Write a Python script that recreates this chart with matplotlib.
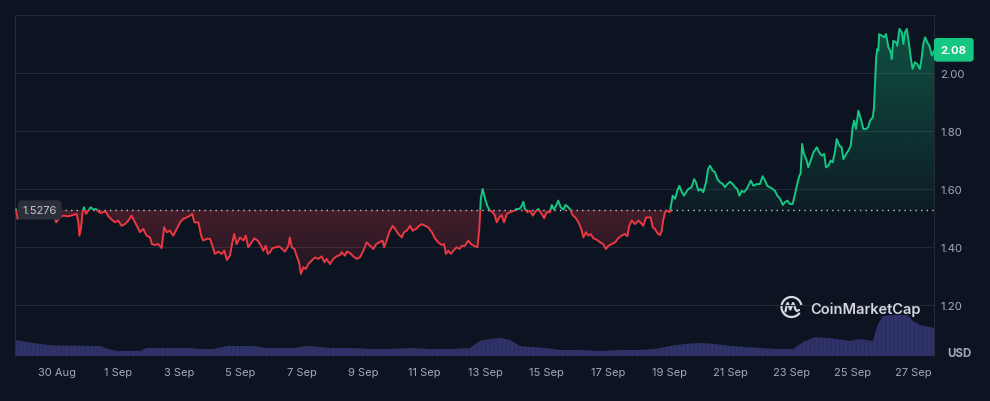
import numpy as np
import matplotlib
matplotlib.use('Agg')
import matplotlib.pyplot as plt
from matplotlib.patches import PathPatch, Rectangle, Arc
from matplotlib.path import Path
from matplotlib.colors import to_rgb

plt.rcParams['font.family'] = ['Inter', 'DejaVu Sans']
plt.rcParams['hatch.linewidth'] = 0.6

# days counted from 30 Aug (0) ; price in USD
days = np.array([
    -1.34, -1.29, -1.21, -1.12, -0.98, -0.78, -0.56, -0.39, -0.25, -0.10, -0.03,
    0.10, 0.21, 0.37, 0.53, 0.64, 0.70, 0.73, 0.78, 0.84, 0.88, 0.95, 1.02, 1.10,
    1.19, 1.27, 1.35, 1.43, 1.51, 1.59, 1.68, 1.79, 1.90, 2.00, 2.11, 2.22, 2.33,
    2.44, 2.52, 2.61, 2.71, 2.82, 2.93, 3.04, 3.10, 3.20, 3.31, 3.42, 3.50, 3.59,
    3.69, 3.80, 3.91, 4.02, 4.13, 4.24, 4.35, 4.42, 4.49, 4.62, 4.71, 4.78, 4.89,
    5.00, 5.08, 5.16, 5.27, 5.38, 5.47, 5.55, 5.65, 5.73, 5.79, 5.87, 5.98, 6.09,
    6.17, 6.25, 6.36, 6.45, 6.56, 6.67, 6.74, 6.82, 6.89, 6.96, 7.04, 7.15, 7.26,
    7.36, 7.45, 7.56, 7.61, 7.67, 7.76, 7.83, 7.91, 7.97, 8.05, 8.13, 8.21, 8.32,
    8.43, 8.54, 8.65, 8.74, 8.81, 8.92, 9.03, 9.14, 9.25, 9.30, 9.41, 9.47, 9.58,
    9.68, 9.79, 9.90, 10.01, 10.12, 10.23, 10.34, 10.43, 10.53, 10.64, 10.69,
    10.77, 10.86, 10.97, 11.05, 11.15, 11.27, 11.34, 11.43, 11.54, 11.62, 11.73,
    11.84, 11.92, 12.03, 12.13, 12.25, 12.35, 12.46, 12.57, 12.65, 12.71, 12.79,
    12.87, 12.95, 13.06, 13.15, 13.23, 13.33, 13.44, 13.53, 13.63, 13.74, 13.80,
    13.85, 13.91, 13.99, 14.06, 14.15, 14.24, 14.31, 14.37, 14.45, 14.53, 14.61,
    14.70, 14.80, 14.94, 15.02, 15.11, 15.19, 15.24, 15.29, 15.37, 15.46, 15.55,
    15.62, 15.73, 15.84, 15.92, 16.00, 16.11, 16.17, 16.24, 16.31, 16.38, 16.46,
    16.55, 16.62, 16.71, 16.77, 16.85, 16.96, 17.07, 17.15, 17.20, 17.29, 17.36,
    17.44, 17.53, 17.64, 17.75, 17.85, 17.94, 18.02, 18.13, 18.24, 18.34, 18.45,
    18.56, 18.64, 18.70, 18.78, 18.89, 19.00, 19.08, 19.16, 19.25, 19.32, 19.40,
    19.47, 19.54, 19.62, 19.71, 19.76, 19.81, 19.87, 19.93, 20.03, 20.12, 20.20,
    20.27, 20.34, 20.42, 20.49, 20.56, 20.63, 20.74, 20.82, 20.88, 20.96, 21.04,
    21.12, 21.21, 21.28, 21.34, 21.43, 21.50, 21.58, 21.67, 21.76, 21.83, 21.91,
    21.99, 22.08, 22.16, 22.23, 22.30, 22.38, 22.45, 22.54, 22.62, 22.67, 22.76,
    22.87, 22.97, 23.06, 23.14, 23.21, 23.30, 23.39, 23.46, 23.54, 23.63, 23.72,
    23.79, 23.87, 23.95, 24.04, 24.12, 24.19, 24.26, 24.30, 24.35, 24.41, 24.50,
    24.55, 24.63, 24.72, 24.83, 24.91, 24.99, 25.07, 25.13, 25.21, 25.28, 25.35,
    25.43, 25.48, 25.57, 25.64, 25.70, 25.79, 25.86, 25.94, 26.00, 26.05, 26.11,
    26.19, 26.27, 26.35, 26.44, 26.51, 26.57, 26.66, 26.70, 26.77, 26.81, 26.84,
    26.87, 26.95, 27.03, 27.09, 27.17, 27.25, 27.28, 27.33, 27.42, 27.46, 27.53,
    27.61, 27.66, 27.71, 27.77, 27.83, 27.90, 27.96, 28.04, 28.11, 28.20, 28.26,
    28.31, 28.37, 28.44, 28.51, 28.59, 28.66])

price = np.array([
    1.529, 1.497, 1.517, 1.534, 1.517, 1.510, 1.521, 1.514, 1.534, 1.517, 1.485,
    1.503, 1.508, 1.506, 1.510, 1.514, 1.485, 1.439, 1.462, 1.522, 1.537, 1.514,
    1.525, 1.537, 1.529, 1.531, 1.522, 1.517, 1.520, 1.522, 1.506, 1.494, 1.485,
    1.491, 1.473, 1.479, 1.491, 1.508, 1.491, 1.473, 1.451, 1.462, 1.439, 1.433,
    1.410, 1.407, 1.410, 1.396, 1.468, 1.451, 1.456, 1.439, 1.462, 1.485, 1.497,
    1.502, 1.508, 1.514, 1.485, 1.485, 1.439, 1.422, 1.428, 1.428, 1.404, 1.376,
    1.384, 1.376, 1.387, 1.355, 1.370, 1.416, 1.445, 1.410, 1.433, 1.422, 1.439,
    1.399, 1.416, 1.430, 1.422, 1.404, 1.387, 1.404, 1.376, 1.382, 1.396, 1.399,
    1.402, 1.393, 1.384, 1.404, 1.433, 1.399, 1.393, 1.370, 1.347, 1.307, 1.330,
    1.324, 1.341, 1.353, 1.364, 1.359, 1.368, 1.347, 1.359, 1.341, 1.359, 1.368,
    1.372, 1.382, 1.370, 1.384, 1.379, 1.368, 1.359, 1.364, 1.387, 1.416, 1.404,
    1.393, 1.410, 1.416, 1.422, 1.399, 1.422, 1.451, 1.473, 1.462, 1.445, 1.433,
    1.451, 1.456, 1.473, 1.456, 1.462, 1.473, 1.479, 1.473, 1.468, 1.451, 1.430,
    1.416, 1.407, 1.410, 1.376, 1.387, 1.376, 1.387, 1.399, 1.393, 1.404, 1.404,
    1.422, 1.410, 1.404, 1.399, 1.462, 1.566, 1.600, 1.566, 1.542, 1.525, 1.520,
    1.508, 1.485, 1.502, 1.510, 1.485, 1.514, 1.520, 1.525, 1.531, 1.531, 1.542,
    1.556, 1.531, 1.520, 1.525, 1.508, 1.520, 1.531, 1.514, 1.499, 1.520, 1.520,
    1.545, 1.529, 1.542, 1.560, 1.537, 1.529, 1.545, 1.537, 1.529, 1.510, 1.499,
    1.479, 1.456, 1.433, 1.451, 1.439, 1.445, 1.430, 1.425, 1.416, 1.410, 1.393,
    1.404, 1.410, 1.416, 1.430, 1.439, 1.445, 1.437, 1.473, 1.491, 1.479, 1.491,
    1.483, 1.473, 1.502, 1.502, 1.502, 1.468, 1.462, 1.448, 1.441, 1.456, 1.491,
    1.520, 1.525, 1.520, 1.577, 1.566, 1.594, 1.611, 1.589, 1.577, 1.589, 1.600,
    1.606, 1.634, 1.623, 1.594, 1.600, 1.589, 1.623, 1.669, 1.680, 1.663, 1.658,
    1.634, 1.623, 1.617, 1.606, 1.617, 1.625, 1.617, 1.606, 1.600, 1.577, 1.594,
    1.589, 1.600, 1.617, 1.629, 1.611, 1.617, 1.617, 1.644, 1.629, 1.611, 1.606,
    1.600, 1.594, 1.577, 1.566, 1.545, 1.554, 1.560, 1.548, 1.548, 1.583, 1.617,
    1.646, 1.652, 1.755, 1.721, 1.698, 1.675, 1.698, 1.726, 1.744, 1.726, 1.715,
    1.721, 1.675, 1.680, 1.698, 1.692, 1.732, 1.772, 1.749, 1.744, 1.703, 1.721,
    1.732, 1.749, 1.813, 1.836, 1.807, 1.870, 1.841, 1.807, 1.807, 1.813, 1.836,
    1.847, 1.882, 2.054, 2.083, 2.077, 2.134, 2.129, 2.123, 2.134, 2.089, 2.071,
    2.048, 2.111, 2.106, 2.094, 2.152, 2.140, 2.100, 2.140, 2.152, 2.111, 2.054,
    2.014, 2.037, 2.031, 2.014, 2.054, 2.100, 2.123, 2.106, 2.094, 2.060, 2.077])

vol_days = np.array([
    -1.34, -0.99, -0.56, -0.13, 1.41, 1.73, 1.96, 2.71, 2.94, 3.14, 4.25, 4.67,
    5.10, 5.56, 6.41, 6.86, 7.71, 8.17, 8.59, 8.92, 9.58, 10.23, 10.88, 11.54,
    12.19, 12.84, 13.50, 13.82, 14.15, 14.48, 14.80, 15.13, 15.46, 15.95, 16.44,
    17.09, 17.75, 18.40, 19.05, 19.54, 20.03, 20.52, 21.01, 21.50, 21.99, 22.48,
    22.97, 23.46, 24.05, 24.38, 24.77, 25.16, 25.49, 25.91, 26.24, 26.67, 26.80,
    26.99, 27.39, 27.78, 27.97, 28.20, 28.66])
volume = np.array([
    16, 14, 12, 10.5, 10, 6.5, 5, 5, 8, 8, 8, 7, 7, 10, 10, 8, 8, 10, 9, 8, 8, 7,
    7, 8, 7, 7, 8, 15, 17, 18, 16, 10, 9, 8, 6, 6, 5, 6, 6, 7, 10, 12, 13, 12, 10,
    9, 8, 7, 7, 14, 19, 18, 17, 15, 17, 15, 30, 40, 41, 41, 35, 31, 28])

base_price = 1.5276
last_price = 2.08
price_ticks = [1.20, 1.40, 1.60, 1.80, 2.00]
tick_days = [0, 2, 4, 6, 8, 10, 12, 14, 16, 18, 20, 22, 24, 26, 28]
tick_labels = ['30 Aug', '1 Sep', '3 Sep', '5 Sep', '7 Sep', '9 Sep', '11 Sep',
               '13 Sep', '15 Sep', '17 Sep', '19 Sep', '21 Sep', '23 Sep',
               '25 Sep', '27 Sep']

bg = '#0d1421'
grid_c = '#232937'
text_c = '#a1a7bb'
green = '#16c784'
red = '#ea3943'

fig = plt.figure(figsize=(9.9, 4.02), dpi=100, facecolor=bg)
ax = fig.add_axes([0.01545, 0.11194, 0.92798, 0.84826])
ax_v = ax.twinx()
ax.set_zorder(1)
ax_v.set_zorder(0)
ax.patch.set_visible(False)

# volume at the bottom
ax_v.fill_between(vol_days, 0, volume, facecolor='#30336a', edgecolor='#272a56',
                  hatch='||||', lw=0)
ax_v.set_ylim(0, 341)
ax_v.set_axis_off()

x0, x1 = -1.363, 28.66
y0, y1 = 1.024, 2.20


def gradient_fill(mask, color, lo, hi, a_lo, a_hi):
    poly = ax.fill_between(days, price, base_price, where=mask, interpolate=True,
                           facecolor='none', lw=0)
    path = Path.make_compound_path(*poly.get_paths())
    poly.remove()
    rgba = np.zeros((256, 1, 4))
    rgba[..., :3] = to_rgb(color)
    rgba[..., 3] = np.linspace(a_lo, a_hi, 256)[:, None]
    im = ax.imshow(rgba, extent=[x0, x1, lo, hi], origin='lower', aspect='auto',
                   zorder=1, interpolation='bilinear')
    im.set_clip_path(PathPatch(path, transform=ax.transData))


gradient_fill(price <= base_price, red, 1.30, base_price, 0.08, 0.25)
gradient_fill(price >= base_price, green, base_price, 2.16, 0.05, 0.34)

ax.axhline(base_price, color='#c3c6cd', lw=1.0, ls=(0, (1, 3)), zorder=2)

# price line, green above the reference price and red below
for col, lo, hi in [(green, base_price, 3.0), (red, 0.0, base_price)]:
    ln, = ax.plot(days, price, color=col, lw=1.4, zorder=3, solid_joinstyle='round')
    ln.set_clip_path(Rectangle((x0 - 1, lo), x1 - x0 + 2, hi - lo,
                               transform=ax.transData))

ax.set_xlim(x0, x1)
ax.set_ylim(y0, y1)
ax.yaxis.tick_right()
ax.set_yticks(price_ticks)
ax.set_yticklabels([f'{p:.2f}' for p in price_ticks])
ax.set_xticks(tick_days)
ax.set_xticklabels(tick_labels)
ax.yaxis.grid(True, color=grid_c, lw=0.8)
ax.set_axisbelow(True)
ax.tick_params(axis='x', length=0, pad=8, labelsize=8, colors=text_c)
ax.tick_params(axis='y', length=0, pad=4.6, labelsize=8.2, colors=text_c)
for side in ['top', 'left', 'right']:
    ax.spines[side].set_color(grid_c)
    ax.spines[side].set_linewidth(0.8)
ax.spines['bottom'].set_visible(False)

ax.annotate(f'{last_price:.2f}', xy=(1, last_price), xycoords=('axes fraction', 'data'),
            xytext=(4.9, 0), textcoords='offset points', ha='left', va='center',
            fontsize=8.2, fontweight='bold', color='white', annotation_clip=False,
            bbox=dict(boxstyle='round,pad=0.6,rounding_size=0.3', fc=green, ec='none'))

fig.text(22.5 / 990, 1 - 211 / 402, f'{base_price}', ha='left', va='center',
         fontsize=8, color='#c3c6cd', zorder=5,
         bbox=dict(boxstyle='round,pad=0.42,rounding_size=0.35', fc='#2a2f3a', ec='none'))

fig.text(947 / 990, 1 - 354 / 402, 'USD', ha='left', va='center', fontsize=8.3,
         fontweight='bold', color=text_c)

# watermark
fig.text(810 / 990, 1 - 309.5 / 402, 'CoinMarketCap', ha='left', va='center',
         fontsize=10.5, fontweight='semibold', color='#d5d8de', zorder=5)
lax = fig.add_axes([779.5 / 990, 1 - 320 / 402, 24 / 990, 24 / 402])
lax.set_xlim(-12, 12)
lax.set_ylim(-12, 12)
lax.set_axis_off()
lax.add_patch(Arc((0, 0), 20, 20, theta1=10, theta2=325, color='#d5d8de', lw=1.6))
lax.plot([-6, -5, -3.8, -2.6, -1.2, 0.2, 1.6, 2.8, 4.0, 5.4, 7.5],
         [-4.5, 1.5, 4.0, 1.0, -2.5, 1.0, 4.0, 1.5, -2.5, -4.0, -3.0],
         color='#d5d8de', lw=1.6, solid_capstyle='round', solid_joinstyle='round')

fig.savefig('out.png', dpi=100, facecolor=bg)
